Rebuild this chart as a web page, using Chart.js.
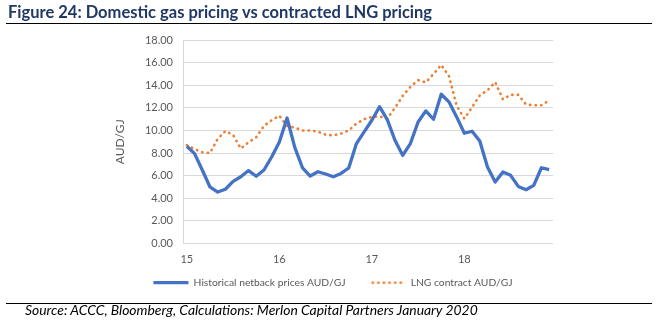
<!DOCTYPE html>
<html>
<head>
<meta charset="utf-8">
<script src="https://cdn.jsdelivr.net/npm/chart.js@4"></script>
<style>
html,body{margin:0;padding:0;background:#fff;}
#wrap{position:relative;width:660px;height:323px;overflow:hidden;background:#fff;}
#c{position:absolute;left:0;top:0;}
#title{position:absolute;left:8px;top:4px;font-family:Lato,sans-serif;font-weight:bold;font-size:16px;line-height:16px;color:#1F3864;white-space:nowrap;}
.rule{position:absolute;left:6px;width:646px;height:1px;background:#000;}
#src{position:absolute;left:25px;top:303px;font-family:Lato,sans-serif;font-style:italic;font-size:13px;line-height:13px;color:#000;white-space:nowrap;}
</style>
</head>
<body>
<div id="wrap">
  <canvas id="c" width="660" height="323"></canvas>
  <div id="title">Figure 24: Domestic gas pricing vs contracted LNG pricing</div>
  <div class="rule" style="top:23px"></div>
  <div class="rule" style="top:303px"></div>
  <div id="src">Source: ACCC, Bloomberg, Calculations: Merlon Capital Partners January 2020</div>
</div>
<script>
// ---- data ----
const categories = [
  'Jan-15','Feb-15','Mar-15','Apr-15','May-15','Jun-15','Jul-15','Aug-15','Sep-15','Oct-15','Nov-15','Dec-15',
  'Jan-16','Feb-16','Mar-16','Apr-16','May-16','Jun-16','Jul-16','Aug-16','Sep-16','Oct-16','Nov-16','Dec-16',
  'Jan-17','Feb-17','Mar-17','Apr-17','May-17','Jun-17','Jul-17','Aug-17','Sep-17','Oct-17','Nov-17','Dec-17',
  'Jan-18','Feb-18','Mar-18','Apr-18','May-18','Jun-18','Jul-18','Aug-18','Sep-18','Oct-18','Nov-18','Dec-18'
];
const yearTickLabels = ['15','16','17','18'];
const netbackPrices = [
  8.6, 7.95, 6.5, 5.0, 4.55, 4.8, 5.5, 5.9, 6.45, 5.95, 6.5, 7.65,
  8.98, 11.1, 8.5, 6.7, 5.97, 6.35, 6.15, 5.9, 6.2, 6.68, 8.84, 9.87,
  10.9, 12.1, 10.96, 9.13, 7.8, 8.84, 10.75, 11.73, 10.99, 13.2, 12.53, 11.2,
  9.75, 9.93, 9.07, 6.77, 5.44, 6.33, 6.03, 5.05, 4.76, 5.14, 6.7, 6.53
];
const lngContract = [
  8.7, 8.35, 8.08, 8.0, 9.25, 9.95, 9.6, 8.4, 8.95, 9.4, 10.4, 10.9,
  11.3, 10.4, 10.25, 10.0, 10.0, 9.9, 9.62, 9.57, 9.72, 10.0, 10.6, 11.0,
  11.2, 11.25, 11.05, 12.0, 13.05, 13.85, 14.45, 14.25, 15.0, 15.8, 14.8, 12.2,
  11.05, 12.05, 13.1, 13.55, 14.27, 12.75, 13.15, 13.15, 12.3, 12.23, 12.23, 12.65
];
const seriesNames = ['Historical netback prices AUD/GJ', 'LNG contract AUD/GJ'];
const yAxisTitle = 'AUD/GJ';
const yMin = 0, yMax = 18, yStep = 2;

// ---- fit html text widths ----
function fitWidth(id, target) {
  const el = document.getElementById(id);
  const fs = parseFloat(getComputedStyle(el).fontSize);
  const w = el.getBoundingClientRect().width;
  el.style.fontSize = (fs * target / w).toFixed(2) + 'px';
}
fitWidth('title', 424);
fitWidth('src', 453);

const grey = '#595959';
const blue = '#4472C4';
const orange = '#ED7D31';
const fontFamily = 'Lato, sans-serif';
const dotDash = [0.4, 5.2];
const dotWidth = 2.6;

// dotted legend sample (Chart.js draws 'line' point styles solid)
const dotSample = document.createElement('canvas');
dotSample.width = 35; dotSample.height = 6;
(function () {
  const g = dotSample.getContext('2d');
  g.strokeStyle = orange;
  g.lineWidth = dotWidth;
  g.lineCap = 'round';
  g.setLineDash(dotDash);
  g.beginPath();
  g.moveTo(2, 3); g.lineTo(34, 3);
  g.stroke();
})();

// move the legend up so that it sits where the reference has it
const legendShift = {
  id: 'legendShift',
  afterLayout(chart) {
    const lg = chart.legend;
    if (!lg) return;
    const h = lg.height;
    lg.top = 252.5;
    lg.bottom = lg.top + h;
  }
};

new Chart(document.getElementById('c'), {
  type: 'line',
  data: {
    labels: categories,
    datasets: [
      {
        label: seriesNames[0],
        data: netbackPrices,
        borderColor: blue,
        backgroundColor: blue,
        borderWidth: 3.3,
        pointRadius: 0,
        tension: 0,
        borderJoinStyle: 'round',
        borderCapStyle: 'butt'
      },
      {
        label: seriesNames[1],
        data: lngContract,
        borderColor: orange,
        backgroundColor: orange,
        borderWidth: dotWidth,
        borderDash: dotDash,
        borderCapStyle: 'round',
        pointRadius: 0,
        tension: 0
      }
    ]
  },
  plugins: [legendShift],
  options: {
    responsive: false,
    animation: false,
    devicePixelRatio: 1,
    layout: { padding: { left: 113, right: 107, top: 40, bottom: 3 } },
    plugins: {
      title: { display: false },
      tooltip: { enabled: false },
      legend: {
        display: true,
        position: 'bottom',
        labels: {
          usePointStyle: true,
          pointStyle: 'line',
          pointStyleWidth: 35,
          padding: 25,
          color: grey,
          font: { family: fontFamily, size: 10.3 },
          generateLabels: function (chart) {
            const items = Chart.defaults.plugins.legend.labels.generateLabels(chart);
            items.forEach(function (it) {
              it.pointStyle = it.datasetIndex === 1 ? dotSample : 'line';
            });
            return items;
          }
        }
      }
    },
    scales: {
      x: {
        type: 'category',
        offset: true,
        grid: { display: false, drawTicks: false },
        border: { display: false },
        ticks: {
          autoSkip: false,
          maxRotation: 0,
          padding: 9,
          color: grey,
          font: { family: fontFamily, size: 11 },
          callback: function(v, i) { return (i % 12 === 0) ? yearTickLabels[i / 12] : null; }
        }
      },
      y: {
        min: yMin,
        max: yMax,
        grid: { color: '#D9D9D9', lineWidth: 1, drawTicks: false },
        border: { display: true, color: '#D9D9D9' },
        ticks: {
          stepSize: yStep,
          padding: 10,
          color: grey,
          font: { family: fontFamily, size: 11 },
          callback: function(v) { return Number(v).toFixed(2); }
        },
        title: {
          display: true,
          text: yAxisTitle,
          color: grey,
          padding: { top: 0, bottom: 0 },
          font: { family: fontFamily, size: 12 }
        },
        afterFit: function(s) { s.width = 70; }
      }
    }
  }
});
</script>
</body>
</html>
